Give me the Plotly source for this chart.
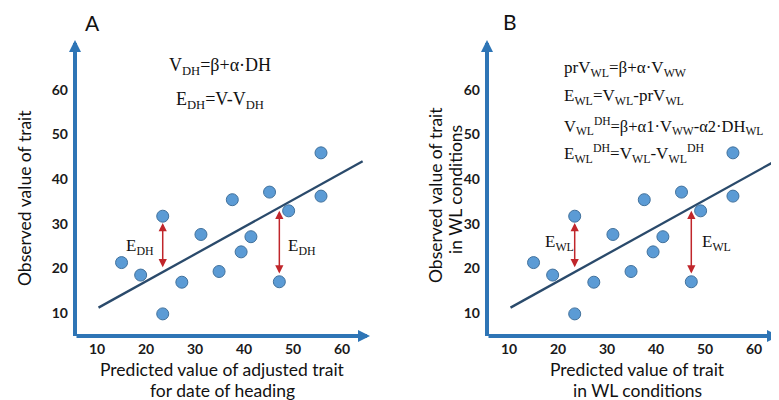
import plotly.graph_objects as go

# ---- data ----
pred_x = [15.0, 18.9, 23.4, 23.4, 27.3, 31.2, 34.9, 37.6, 39.4, 41.4, 45.2, 47.2, 49.1, 55.7, 55.7]
obs_y = [21.3, 18.5, 31.7, 9.8, 16.9, 27.6, 19.3, 35.4, 23.7, 27.1, 37.1, 17.0, 32.9, 45.9, 36.2]
fit_x = [10.3, 64.2]
fit_y = [11.2, 44.0]
err_x = [23.4, 47.2]
err_lo = [19.9, 18.5]
err_hi = [30.2, 32.9]
tick_vals = [10, 20, 30, 40, 50, 60]
tick_text = ["10", "20", "30", "40", "50", "60"]

# page body has an 8px default margin -> shrink figure and shift coordinates
OFF = 8
W, H = 779 - OFF, 400 - OFF
def px(v):
    return (v - OFF) / W
def py(v):
    return 1 - (v - OFF) / H

AXIS_BLUE = "#2E75B6"
PT_FILL = "#5B9BD5"
PT_LINE = "#41719C"
FIT_COL = "#2A4A6B"
RED = "#C0262B"
SERIF = "Liberation Serif"
SANS = "Lato"

fig = go.Figure()
for xa, ya in (("x", "y"), ("x2", "y2")):
    fig.add_trace(go.Scatter(x=fit_x, y=fit_y, mode="lines", xaxis=xa, yaxis=ya,
                             line=dict(color=FIT_COL, width=2.3), hoverinfo="skip", showlegend=False))
    fig.add_trace(go.Scatter(x=pred_x, y=obs_y, mode="markers", xaxis=xa, yaxis=ya,
                             marker=dict(size=12, color=PT_FILL, line=dict(color=PT_LINE, width=1)),
                             showlegend=False))

ax_common = dict(showgrid=False, zeroline=False, showline=False, ticks="",
                 tickvals=tick_vals, ticktext=tick_text,
                 tickfont=dict(family=SANS, size=14, color="#1a1a1a", weight="bold"))

fig.update_layout(
    width=W, height=H, margin=dict(l=0, r=0, t=0, b=0),
    plot_bgcolor="white", paper_bgcolor="white",
    xaxis=dict(domain=[px(75), px(370)], range=[5.5, 65.7], anchor="y", ticklabelstandoff=3, **ax_common),
    yaxis=dict(domain=[py(336), py(40)], range=[4.84, 71.2], anchor="x", ticklabelstandoff=6, **ax_common),
    xaxis2=dict(domain=[px(487), 1.0], range=[5.5, 65.1], anchor="y2", ticklabelstandoff=3, **ax_common),
    yaxis2=dict(domain=[py(336), py(40)], range=[4.84, 71.2], anchor="x2", ticklabelstandoff=6, **ax_common),
)

ann = []
# axis arrows
for xr, yr in (("x", "y"), ("x2", "y2")):
    ann.append(dict(xref=f"{xr} domain", yref=f"{yr} domain", axref=f"{xr} domain", ayref=f"{yr} domain",
                    x=1, y=0, ax=0, ay=0, text="", showarrow=True, arrowhead=2, arrowsize=0.6,
                    arrowwidth=4, arrowcolor=AXIS_BLUE, standoff=0, startstandoff=0))
    ann.append(dict(xref=f"{xr} domain", yref=f"{yr} domain", axref=f"{xr} domain", ayref=f"{yr} domain",
                    x=0, y=1, ax=0, ay=-0.005, text="", showarrow=True, arrowhead=2, arrowsize=0.6,
                    arrowwidth=4, arrowcolor=AXIS_BLUE, standoff=0, startstandoff=0))
    # residual arrows
    for i in range(len(err_x)):
        ann.append(dict(xref=xr, yref=yr, axref=xr, ayref=yr, x=err_x[i], y=err_hi[i],
                        ax=err_x[i], ay=err_lo[i], text="", showarrow=True, arrowhead=2,
                        arrowside="end+start", arrowsize=1.1, arrowwidth=1.5, arrowcolor=RED))

def txt(x, y, s, size=18, family=SERIF, xanchor="center", angle=0):
    ann.append(dict(xref="paper", yref="paper", x=px(x), y=py(y), text=s, showarrow=False,
                    xanchor=xanchor, yanchor="middle", textangle=angle,
                    font=dict(family=family, size=size, color="#111")))

# panel letters
txt(92, 23, "A", size=21, family=SANS)
txt(510, 21, "B", size=21, family=SANS)

# panel A equations
txt(220, 67, "V<sub>DH</sub>=β+α·DH")
txt(220, 100, "E<sub>DH</sub>=V-V<sub>DH</sub>")
txt(140, 247, "E<sub>DH</sub>", size=17)
txt(302, 247, "E<sub>DH</sub>", size=17)

# panel B equations
txt(562, 69, "prV<sub>WL</sub>=β+α·V<sub>WW</sub>", size=17, xanchor="left")
txt(562, 97, "E<sub>WL</sub>=V<sub>WL</sub>-prV<sub>WL</sub>", size=17, xanchor="left")
txt(562, 126, "V<sub>WL</sub><sup>DH</sup>=β+α1·V<sub>WW</sub>-α2·DH<sub>WL</sub>", size=16.5, xanchor="left")
txt(562, 153, "E<sub>WL</sub><sup>DH</sup>=V<sub>WL</sub>-V<sub>WL</sub><sup>DH</sup>", size=17, xanchor="left")
txt(559, 243, "E<sub>WL</sub>", size=17)
txt(716, 243, "E<sub>WL</sub>", size=17)

# axis titles
txt(222, 369, "Predicted value of adjusted trait", size=17.5, family=SANS)
txt(222, 390, "for date of heading", size=17.5, family=SANS)
txt(637, 369, "Predicted value of trait", size=17.5, family=SANS)
txt(637, 390, "in WL conditions", size=17.5, family=SANS)
txt(25, 198, "Observed value of trait", size=17.5, family=SANS, angle=-90)
txt(435, 195, "Observed value of trait", size=17.5, family=SANS, angle=-90)
txt(455, 190, "in WL conditions", size=17.5, family=SANS, angle=-90)

fig.update_layout(annotations=ann)
fig.write_html("out.html")
